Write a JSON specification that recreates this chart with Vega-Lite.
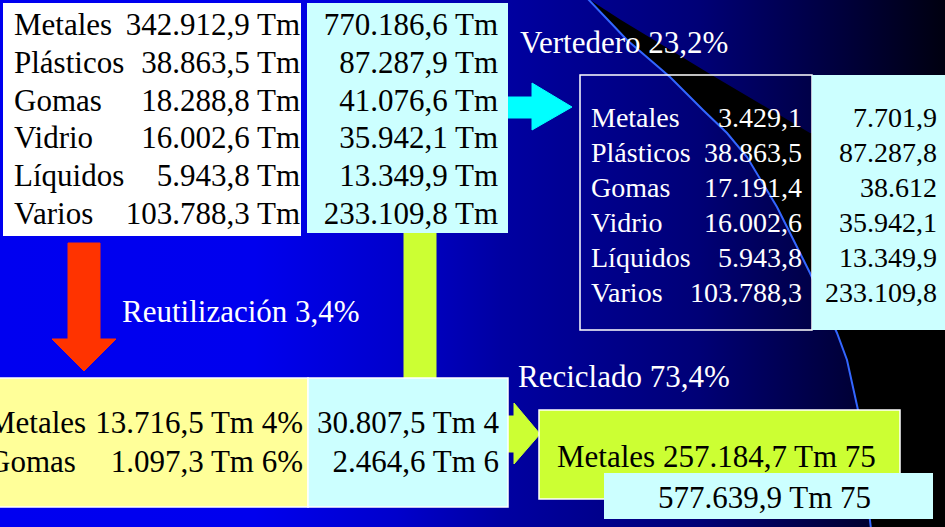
{
  "$schema": "https://vega.github.io/schema/vega-lite/v6.json",
  "width": 945,
  "height": 527,
  "padding": 0,
  "autosize": {"type": "none"},
  "background": "#000000",
  "config": {"view": {"stroke": null}, "text": {"font": "Liberation Serif"}},
  "datasets": {
    "entrada": [
      {"fila": 1, "material": "Metales", "peso": "342.912,9 Tm", "total": "770.186,6 Tm"},
      {"fila": 2, "material": "Plásticos", "peso": "38.863,5 Tm", "total": "87.287,9 Tm"},
      {"fila": 3, "material": "Gomas", "peso": "18.288,8 Tm", "total": "41.076,6 Tm"},
      {"fila": 4, "material": "Vidrio", "peso": "16.002,6 Tm", "total": "35.942,1 Tm"},
      {"fila": 5, "material": "Líquidos", "peso": "5.943,8 Tm", "total": "13.349,9 Tm"},
      {"fila": 6, "material": "Varios", "peso": "103.788,3 Tm", "total": "233.109,8 Tm"}
    ],
    "vertedero": [
      {"fila": 1, "material": "Metales", "peso": "3.429,1", "total": "7.701,9"},
      {"fila": 2, "material": "Plásticos", "peso": "38.863,5", "total": "87.287,8"},
      {"fila": 3, "material": "Gomas", "peso": "17.191,4", "total": "38.612"},
      {"fila": 4, "material": "Vidrio", "peso": "16.002,6", "total": "35.942,1"},
      {"fila": 5, "material": "Líquidos", "peso": "5.943,8", "total": "13.349,9"},
      {"fila": 6, "material": "Varios", "peso": "103.788,3", "total": "233.109,8"}
    ],
    "reutilizacion": [
      {"fila": 1, "material": "Metales", "peso": "13.716,5 Tm 4%", "total": "30.807,5 Tm 4"},
      {"fila": 2, "material": "Gomas", "peso": "1.097,3 Tm 6%", "total": "2.464,6 Tm 6"}
    ],
    "reciclado": [
      {"texto": "Metales 257.184,7 Tm 75", "x": 557, "y": 467},
      {"texto": "577.639,9 Tm 75", "x": 658, "y": 508}
    ],
    "rotulos": [
      {"texto": "Vertedero 23,2%", "x": 520, "y": 53},
      {"texto": "Reutilización 3,4%", "x": 122, "y": 322},
      {"texto": "Reciclado 73,4%", "x": 518, "y": 387}
    ],
    "cajas": [
      {"id": "entrada", "tipo": "blanco", "borde": "no", "x0": 3, "x1": 301, "y0": 3, "y1": 236},
      {"id": "entrada total", "tipo": "cian", "borde": "no", "x0": 307, "x1": 508, "y0": 3, "y1": 233},
      {"id": "vertedero", "tipo": "ninguno", "borde": "si", "x0": 580, "x1": 812, "y0": 75, "y1": 330},
      {"id": "vertedero total", "tipo": "cian", "borde": "no", "x0": 812, "x1": 946, "y0": 75, "y1": 330},
      {"id": "reutilizacion", "tipo": "amarillo", "borde": "si", "x0": -5, "x1": 308, "y0": 378, "y1": 507},
      {"id": "reutilizacion total", "tipo": "cian", "borde": "si", "x0": 308, "x1": 508, "y0": 378, "y1": 507},
      {"id": "reciclado", "tipo": "verde", "borde": "si", "x0": 539, "x1": 900, "y0": 410, "y1": 499},
      {"id": "reciclado total", "tipo": "cian", "borde": "no", "x0": 604, "x1": 933, "y0": 473, "y1": 519}
    ],
    "sombra": [
      {"y": -2, "xl": 587, "xr": 587},
      {"y": 20, "xl": 608, "xr": 621},
      {"y": 40, "xl": 627, "xr": 654},
      {"y": 77, "xl": 670, "xr": 715},
      {"y": 110, "xl": 703, "xr": 771},
      {"y": 133, "xl": 727, "xr": 810},
      {"y": 134, "xl": 728, "xr": 947},
      {"y": 157, "xl": 747, "xr": 947},
      {"y": 207, "xl": 777, "xr": 947},
      {"y": 253, "xl": 800, "xr": 947},
      {"y": 273, "xl": 810, "xr": 947},
      {"y": 333, "xl": 837, "xr": 947},
      {"y": 360, "xl": 847, "xr": 947},
      {"y": 410, "xl": 858, "xr": 947},
      {"y": 470, "xl": 864, "xr": 947},
      {"y": 529, "xl": 871, "xr": 947}
    ],
    "poligonos": [
      {"id": "rojo", "orden": 1, "x": 68, "y": 243},
      {"id": "rojo", "orden": 2, "x": 100, "y": 243},
      {"id": "rojo", "orden": 3, "x": 100, "y": 339},
      {"id": "rojo", "orden": 4, "x": 116, "y": 339},
      {"id": "rojo", "orden": 5, "x": 84, "y": 371},
      {"id": "rojo", "orden": 6, "x": 52, "y": 339},
      {"id": "rojo", "orden": 7, "x": 68, "y": 339},
      {"id": "cian", "orden": 1, "x": 508, "y": 97},
      {"id": "cian", "orden": 2, "x": 532, "y": 97},
      {"id": "cian", "orden": 3, "x": 532, "y": 83},
      {"id": "cian", "orden": 4, "x": 572, "y": 107},
      {"id": "cian", "orden": 5, "x": 532, "y": 130},
      {"id": "cian", "orden": 6, "x": 532, "y": 118},
      {"id": "cian", "orden": 7, "x": 508, "y": 118},
      {"id": "verde barra", "orden": 1, "x": 404, "y": 233},
      {"id": "verde barra", "orden": 2, "x": 436, "y": 233},
      {"id": "verde barra", "orden": 3, "x": 436, "y": 378},
      {"id": "verde barra", "orden": 4, "x": 404, "y": 378},
      {"id": "verde flecha", "orden": 1, "x": 508, "y": 416},
      {"id": "verde flecha", "orden": 2, "x": 514, "y": 416},
      {"id": "verde flecha", "orden": 3, "x": 514, "y": 403},
      {"id": "verde flecha", "orden": 4, "x": 540, "y": 434},
      {"id": "verde flecha", "orden": 5, "x": 514, "y": 464},
      {"id": "verde flecha", "orden": 6, "x": 514, "y": 452},
      {"id": "verde flecha", "orden": 7, "x": 508, "y": 452}
    ],
    "curva": [
      {"x": 587, "y": -2},
      {"x": 608, "y": 20},
      {"x": 627, "y": 40},
      {"x": 670, "y": 77},
      {"x": 703, "y": 110},
      {"x": 727, "y": 133},
      {"x": 747, "y": 157},
      {"x": 777, "y": 207},
      {"x": 800, "y": 253},
      {"x": 810, "y": 273},
      {"x": 837, "y": 333},
      {"x": 847, "y": 360},
      {"x": 858, "y": 410},
      {"x": 864, "y": 470},
      {"x": 871, "y": 529}
    ]
  },
  "resolve": {"scale": {"x": "independent", "y": "independent", "fill": "independent", "stroke": "independent", "color": "independent"}},
  "layer": [
    {
      "data": {"values": [{"fondo": "degradado"}]},
      "mark": {
        "type": "rect",
        "fill": {
          "gradient": "linear", "x1": 0, "y1": 0, "x2": 1, "y2": 0,
          "stops": [
            {"offset": 0, "color": "#0000f0"},
            {"offset": 0.27, "color": "#0000ee"},
            {"offset": 0.42, "color": "#0000cc"},
            {"offset": 0.53, "color": "#0000a2"},
            {"offset": 0.74, "color": "#000076"},
            {"offset": 0.89, "color": "#00003c"},
            {"offset": 1, "color": "#000010"}
          ]
        }
      },
      "encoding": {
        "x": {"datum": 0, "type": "quantitative", "scale": {"domain": [0, 945], "nice": false, "zero": false}, "axis": null},
        "x2": {"datum": 945},
        "y": {"datum": 0, "type": "quantitative", "scale": {"domain": [0, 527], "reverse": true, "nice": false, "zero": false}, "axis": null},
        "y2": {"datum": 527}
      }
    },
    {
      "data": {"name": "sombra"},
      "mark": {"type": "area", "orient": "horizontal", "color": "#000000", "opacity": 1},
      "encoding": {
        "y": {"field": "y", "type": "quantitative", "scale": {"domain": [0, 527], "reverse": true, "nice": false, "zero": false}, "axis": null},
        "x": {"field": "xl", "type": "quantitative", "scale": {"domain": [0, 945], "nice": false, "zero": false}, "axis": null},
        "x2": {"field": "xr"}
      }
    },
    {
      "data": {"name": "poligonos"},
      "mark": {"type": "line", "strokeWidth": 1, "interpolate": "linear-closed"},
      "encoding": {
        "x": {"field": "x", "type": "quantitative", "scale": {"domain": [0, 945], "nice": false, "zero": false}, "axis": null},
        "y": {"field": "y", "type": "quantitative", "scale": {"domain": [0, 527], "reverse": true, "nice": false, "zero": false}, "axis": null},
        "order": {"field": "orden", "type": "quantitative"},
        "fill": {"field": "id", "type": "nominal", "legend": null, "scale": {"domain": ["rojo", "cian", "verde barra", "verde flecha"], "range": ["#ff3300", "#00ffff", "#ccff33", "#ccff33"]}},
        "stroke": {"field": "id", "type": "nominal", "legend": null, "scale": {"domain": ["rojo", "cian", "verde barra", "verde flecha"], "range": ["#ff3300", "#00ffff", "#ccff33", "#ccff33"]}}
      }
    },
    {
      "data": {"name": "curva"},
      "mark": {"type": "line", "stroke": "#3366ff", "strokeWidth": 2},
      "encoding": {
        "x": {"field": "x", "type": "quantitative", "scale": {"domain": [0, 945], "nice": false, "zero": false}, "axis": null},
        "y": {"field": "y", "type": "quantitative", "scale": {"domain": [0, 527], "reverse": true, "nice": false, "zero": false}, "axis": null},
        "order": {"field": "y", "type": "quantitative"}
      }
    },
    {
      "data": {"name": "cajas"},
      "mark": {"type": "rect", "strokeWidth": 1.5},
      "encoding": {
        "x": {"field": "x0", "type": "quantitative", "scale": {"domain": [0, 945], "nice": false, "zero": false}, "axis": null},
        "x2": {"field": "x1"},
        "y": {"field": "y0", "type": "quantitative", "scale": {"domain": [0, 527], "reverse": true, "nice": false, "zero": false}, "axis": null},
        "y2": {"field": "y1"},
        "fill": {"field": "tipo", "type": "nominal", "legend": null, "scale": {"domain": ["blanco", "cian", "amarillo", "verde", "ninguno"], "range": ["#ffffff", "#ccffff", "#ffff99", "#ccff33", "transparent"]}},
        "stroke": {"field": "borde", "type": "nominal", "legend": null, "scale": {"domain": ["si", "no"], "range": ["#ffffff", "transparent"]}}
      }
    },
    {
      "data": {"name": "entrada"},
      "mark": {"type": "text", "align": "left", "baseline": "alphabetic", "fontSize": 31, "color": "#000000"},
      "encoding": {
        "x": {"datum": 14, "type": "quantitative", "scale": {"domain": [0, 945], "nice": false, "zero": false}, "axis": null},
        "y": {"field": "fila", "type": "quantitative", "scale": {"domain": [1, 6], "range": [35, 224], "nice": false, "zero": false}, "axis": null},
        "text": {"field": "material"}
      }
    },
    {
      "data": {"name": "entrada"},
      "mark": {"type": "text", "align": "right", "baseline": "alphabetic", "fontSize": 31, "color": "#000000"},
      "encoding": {
        "x": {"datum": 300, "type": "quantitative", "scale": {"domain": [0, 945], "nice": false, "zero": false}, "axis": null},
        "y": {"field": "fila", "type": "quantitative", "scale": {"domain": [1, 6], "range": [35, 224], "nice": false, "zero": false}, "axis": null},
        "text": {"field": "peso"}
      }
    },
    {
      "data": {"name": "entrada"},
      "mark": {"type": "text", "align": "right", "baseline": "alphabetic", "fontSize": 31, "color": "#000000"},
      "encoding": {
        "x": {"datum": 498, "type": "quantitative", "scale": {"domain": [0, 945], "nice": false, "zero": false}, "axis": null},
        "y": {"field": "fila", "type": "quantitative", "scale": {"domain": [1, 6], "range": [35, 224], "nice": false, "zero": false}, "axis": null},
        "text": {"field": "total"}
      }
    },
    {
      "data": {"name": "vertedero"},
      "mark": {"type": "text", "align": "left", "baseline": "alphabetic", "fontSize": 28, "color": "#ffffff"},
      "encoding": {
        "x": {"datum": 591, "type": "quantitative", "scale": {"domain": [0, 945], "nice": false, "zero": false}, "axis": null},
        "y": {"field": "fila", "type": "quantitative", "scale": {"domain": [1, 6], "range": [127, 302], "nice": false, "zero": false}, "axis": null},
        "text": {"field": "material"}
      }
    },
    {
      "data": {"name": "vertedero"},
      "mark": {"type": "text", "align": "right", "baseline": "alphabetic", "fontSize": 28, "color": "#ffffff"},
      "encoding": {
        "x": {"datum": 802, "type": "quantitative", "scale": {"domain": [0, 945], "nice": false, "zero": false}, "axis": null},
        "y": {"field": "fila", "type": "quantitative", "scale": {"domain": [1, 6], "range": [127, 302], "nice": false, "zero": false}, "axis": null},
        "text": {"field": "peso"}
      }
    },
    {
      "data": {"name": "vertedero"},
      "mark": {"type": "text", "align": "right", "baseline": "alphabetic", "fontSize": 28, "color": "#000000"},
      "encoding": {
        "x": {"datum": 937, "type": "quantitative", "scale": {"domain": [0, 945], "nice": false, "zero": false}, "axis": null},
        "y": {"field": "fila", "type": "quantitative", "scale": {"domain": [1, 6], "range": [127, 302], "nice": false, "zero": false}, "axis": null},
        "text": {"field": "total"}
      }
    },
    {
      "data": {"name": "reutilizacion"},
      "mark": {"type": "text", "align": "left", "baseline": "alphabetic", "fontSize": 31, "color": "#000000"},
      "encoding": {
        "x": {"datum": -12, "type": "quantitative", "scale": {"domain": [0, 945], "nice": false, "zero": false}, "axis": null},
        "y": {"field": "fila", "type": "quantitative", "scale": {"domain": [1, 2], "range": [433, 472], "nice": false, "zero": false}, "axis": null},
        "text": {"field": "material"}
      }
    },
    {
      "data": {"name": "reutilizacion"},
      "mark": {"type": "text", "align": "right", "baseline": "alphabetic", "fontSize": 31, "color": "#000000"},
      "encoding": {
        "x": {"datum": 303, "type": "quantitative", "scale": {"domain": [0, 945], "nice": false, "zero": false}, "axis": null},
        "y": {"field": "fila", "type": "quantitative", "scale": {"domain": [1, 2], "range": [433, 472], "nice": false, "zero": false}, "axis": null},
        "text": {"field": "peso"}
      }
    },
    {
      "data": {"name": "reutilizacion"},
      "mark": {"type": "text", "align": "right", "baseline": "alphabetic", "fontSize": 31, "color": "#000000"},
      "encoding": {
        "x": {"datum": 499, "type": "quantitative", "scale": {"domain": [0, 945], "nice": false, "zero": false}, "axis": null},
        "y": {"field": "fila", "type": "quantitative", "scale": {"domain": [1, 2], "range": [433, 472], "nice": false, "zero": false}, "axis": null},
        "text": {"field": "total"}
      }
    },
    {
      "data": {"name": "reciclado"},
      "mark": {"type": "text", "align": "left", "baseline": "alphabetic", "fontSize": 31, "color": "#000000"},
      "encoding": {
        "x": {"field": "x", "type": "quantitative", "scale": {"domain": [0, 945], "nice": false, "zero": false}, "axis": null},
        "y": {"field": "y", "type": "quantitative", "scale": {"domain": [0, 527], "reverse": true, "nice": false, "zero": false}, "axis": null},
        "text": {"field": "texto"}
      }
    },
    {
      "data": {"name": "rotulos"},
      "mark": {"type": "text", "align": "left", "baseline": "alphabetic", "fontSize": 31, "color": "#ffffff"},
      "encoding": {
        "x": {"field": "x", "type": "quantitative", "scale": {"domain": [0, 945], "nice": false, "zero": false}, "axis": null},
        "y": {"field": "y", "type": "quantitative", "scale": {"domain": [0, 527], "reverse": true, "nice": false, "zero": false}, "axis": null},
        "text": {"field": "texto"}
      }
    }
  ]
}
